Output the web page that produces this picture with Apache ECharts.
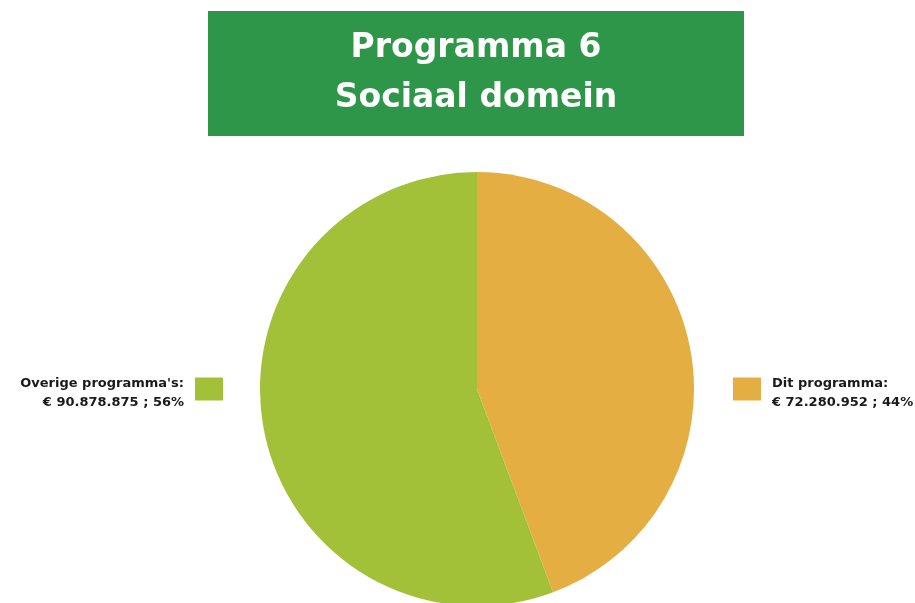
<!DOCTYPE html>
<html>
<head>
<meta charset="utf-8">
<script src="https://cdn.jsdelivr.net/npm/echarts@6/dist/echarts.min.js"></script>
<style>
  html, body { margin: 0; padding: 0; background: #fff; }
  #chart { width: 915px; height: 603px; }
</style>
</head>
<body>
<div id="chart"></div>
<script>
// Budget share of this programme versus all other programmes
const titleLines = ['Programma 6', 'Sociaal domein'];
const categories = ['Dit programma', "Overige programma's"];
const amounts = [72280952, 90878875];
const colors = ['#e5ae42', '#a3c039'];

const total = amounts.reduce((a, b) => a + b, 0);
const euro = v => '€ ' + v.toString().replace(/\B(?=(\d{3})+(?!\d))/g, '.');
const pct = v => Math.round(v / total * 100) + '%';
// Two-line legend entry; a thin spacer line on top nudges the text below the swatch centre
const legendText = name => {
  const i = categories.indexOf(name);
  return '{gap| }\n{t|' + name + ':}\n{t|' + euro(amounts[i]) + ' ; ' + pct(amounts[i]) + '}';
};

const chart = echarts.init(document.getElementById('chart'));
const legendFont = {
  fontFamily: 'DejaVu Sans',
  fontWeight: 'bold',
  fontSize: 13,
  color: '#1a1a1a',
  lineHeight: 19
};
const legendRich = align => ({
  gap: { fontSize: 1, lineHeight: 8, align: align },
  t: Object.assign({ align: align }, legendFont)
});

chart.setOption({
  animation: false,
  color: colors,
  graphic: [{
    type: 'rect',
    z: 0,
    shape: { x: 208, y: 11, width: 536, height: 125 },
    style: { fill: '#2e9648' }
  }],
  title: {
    text: titleLines.join('\n'),
    left: 476,
    top: 23,
    textAlign: 'center',
    padding: 0,
    textStyle: {
      color: '#ffffff',
      fontFamily: 'DejaVu Sans',
      fontWeight: 'bold',
      fontSize: 33,
      lineHeight: 50
    }
  },
  legend: [{
    data: [categories[1]],
    right: 692,
    top: 366,
    padding: 0,
    orient: 'vertical',
    align: 'right',
    itemWidth: 28,
    itemHeight: 23,
    icon: 'rect',
    selectedMode: false,
    formatter: legendText,
    textStyle: Object.assign({ align: 'right', padding: [0, 6, 0, 0], rich: legendRich('right') }, legendFont)
  }, {
    data: [categories[0]],
    left: 733,
    top: 366,
    padding: 0,
    orient: 'vertical',
    align: 'left',
    itemWidth: 28,
    itemHeight: 23,
    icon: 'rect',
    selectedMode: false,
    formatter: legendText,
    textStyle: Object.assign({ padding: [0, 0, 0, 6], rich: legendRich('left') }, legendFont)
  }],
  series: [{
    type: 'pie',
    center: [477, 389],
    radius: 217,
    startAngle: 90,
    clockwise: true,
    label: { show: false },
    labelLine: { show: false },
    emphasis: { disabled: true },
    itemStyle: { borderWidth: 0 },
    data: categories.map((c, i) => ({ name: c, value: amounts[i] }))
  }]
});
</script>
</body>
</html>
